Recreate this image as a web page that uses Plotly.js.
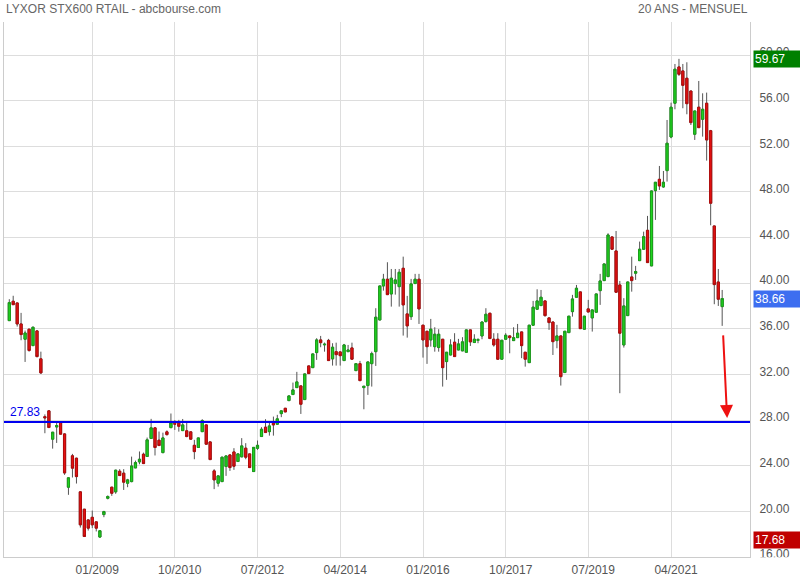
<!DOCTYPE html>
<html>
<head>
<meta charset="utf-8">
<script src="https://cdn.plot.ly/plotly-3.0.1.min.js"></script>
<style>html,body{margin:0;padding:0;background:#fff;}#chart{width:800px;height:580px;}</style>
</head>
<body>
<div id="chart"></div>
<script>
// Monthly candles, first month April 2007, last month May 2022
const startYear = 2007, startMonth = 4;
const openVals = [36.72,38.42,38.27,36.43,35.09,35.97,34.53,35.82,33.37,28.3,
28.81,26.33,27.4,27.82,26.79,22.12,24.87,24.66,21.71,20.19,
19.25,19.48,19.08,17.75,19.72,21.15,22.12,21.71,23.52,23.35,
22.47,22.61,23.81,24.34,25.01,24.81,26.39,27.32,26.24,25.15,
26.97,27.34,27.7,27.73,27.08,27.06,26.97,25.79,25.6,26.99,
27.58,26.09,23.55,22.47,22.61,23.93,24.95,25.21,24.37,24.78,
25.54,25.04,23.49,25.53,26.56,27.38,26.99,27.73,27.64,28.57,
29.04,29.71,30.24,30.85,31.0,29.8,32.75,32.6,33.92,35.03,
34.6,34.99,33.37,34.0,33.98,33.22,34.0,34.33,32.34,32.95,
30.85,31.03,32.95,34.0,36.78,39.76,40.35,39.06,39.97,39.7,
41.31,37.31,37.07,39.97,40.35,36.32,35.79,35.03,34.44,34.36,
35.09,33.13,33.71,34.83,34.15,34.07,33.95,35.91,34.8,35.0,
35.38,36.64,37.37,35.09,35.09,33.34,35.09,35.38,34.97,35.23,
35.73,33.95,33.04,36.32,37.72,38.04,38.45,36.96,36.6,34.97,
35.38,32.17,35.67,37.51,38.77,39.24,35.97,37.75,36.96,37.46,
39.35,40.23,40.58,44.06,42.83,39.85,34.59,37.16,40.55,40.88,
41.98,42.98,44.64,41.52,48.12,49.11,48.44,49.87,52.82,55.78,
58.96,58.61,57.97,56.85,53.06,55.43,54.37,55.78,53.37,45.02,
40.11,37.95];
const highVals = [38.6,38.9,38.3,37.4,35.85,36.0,36.2,35.9,34.0,28.5,
28.85,26.95,27.85,27.85,26.85,23.0,25.04,24.7,21.75,20.2,
19.3,20.07,19.1,18.35,20.05,21.4,22.15,23.65,23.7,23.7,
22.85,24.8,24.45,25.25,25.15,26.47,28.11,27.35,27.0,26.9,
27.1,28.58,28.0,28.02,28.1,27.78,27.0,26.27,26.45,28.08,
27.6,26.1,23.7,23.15,24.78,24.88,24.97,25.54,25.06,26.42,
25.98,25.06,25.63,26.21,27.38,28.08,27.87,28.31,28.46,28.83,
29.06,30.14,31.29,32.23,31.02,32.07,32.77,33.82,35.18,35.38,
34.8,35.12,34.74,34.79,34.0,34.68,34.59,34.79,32.97,33.19,
30.99,33.12,34.0,37.81,39.78,40.82,41.84,41.25,41.25,41.25,
42.33,38.89,40.38,40.82,40.82,36.34,35.81,36.87,36.14,35.97,
35.11,33.97,35.09,35.62,35.12,35.27,35.93,35.93,35.53,35.18,
36.62,37.81,37.39,35.62,35.62,35.02,35.62,35.4,36.14,36.43,
35.75,33.97,36.34,38.45,39.47,39.41,38.47,36.98,36.62,36.35,
35.4,35.81,37.13,38.98,39.85,39.26,37.13,38.54,37.68,39.08,
40.82,41.71,44.38,44.08,44.58,40.2,38.69,40.13,42.33,41.52,
43.65,44.52,45.9,48.11,48.87,50.28,49.84,54.31,55.83,59.22,
59.67,59.22,59.37,56.87,55.12,57.73,56.65,56.71,53.44,45.04,
41.25,39.41];
const lowVals = [36.7,38.1,36.2,35.0,33.1,34.0,34.5,33.5,32.05,26.85,
27.3,25.5,26.0,26.75,23.2,21.45,22.97,22.44,18.58,17.75,
18.32,18.53,18.24,17.68,19.49,21.05,21.36,21.54,23.1,21.88,
22.12,22.55,23.8,24.13,24.15,24.8,26.35,24.9,25.75,25.1,
26.65,27.3,27.14,26.99,27.05,26.5,26.3,24.57,25.58,26.95,
25.85,24.5,21.95,22.17,22.6,23.11,23.55,23.64,24.35,24.75,
24.57,23.82,23.47,25.39,26.54,26.89,26.64,26.64,27.62,28.26,
28.7,29.69,30.22,30.83,28.54,29.78,32.06,32.58,33.28,34.39,
34.0,33.2,32.78,32.78,32.78,33.2,33.98,33.32,32.32,31.44,
28.95,30.21,30.94,32.75,36.76,39.35,38.98,37.95,39.0,37.95,
35.41,35.23,36.78,39.95,36.43,33.48,32.93,34.44,34.0,34.0,
30.94,31.53,33.69,33.55,34.13,34.05,33.93,34.5,34.78,34.74,
35.09,36.55,35.13,34.44,33.32,33.32,35.07,33.86,34.95,35.21,
33.43,32.69,33.02,36.26,37.7,38.02,37.07,35.91,33.71,34.3,
31.03,32.15,35.65,37.07,38.75,36.0,35.95,37.46,35.76,37.44,
38.1,40.21,40.56,42.96,39.19,30.36,34.36,37.14,39.26,40.29,
41.96,42.92,41.79,41.5,45.55,48.18,48.38,48.91,52.71,55.25,
58.17,55.34,54.81,53.87,52.56,53.62,52.85,50.75,45.08,38.16,
38.01,36.26];
const closeVals = [38.3,38.12,36.43,35.5,35.64,34.1,36.14,33.57,32.14,28.2,
27.35,26.94,27.52,26.77,23.37,22.94,23.79,23.05,18.82,17.8,
18.53,18.82,18.53,18.3,19.98,21.3,21.59,23.61,23.14,22.56,
22.76,23.98,24.28,24.57,24.19,26.27,27.32,25.6,25.77,26.44,
26.73,27.78,27.65,27.46,27.58,26.56,26.33,25.24,26.44,27.96,
25.89,24.54,22.76,23.11,24.75,24.86,23.84,23.96,25.04,25.74,
24.75,23.84,25.61,25.79,27.2,26.91,27.49,27.58,28.11,28.81,
28.72,30.12,30.65,31.35,29.39,32.05,32.08,33.8,35.03,34.79,
34.65,33.22,34.39,33.74,33.65,34.59,34.15,33.34,32.95,31.46,
30.97,33.1,33.83,37.02,39.76,40.35,39.0,40.44,40.29,40.96,
38.1,36.26,39.94,40.35,37.75,35.03,34.44,35.97,35.53,35.53,
32.6,33.95,34.59,33.57,34.68,34.86,35.91,34.86,35.09,35.05,
36.6,37.28,35.15,34.59,33.34,35.0,35.44,35.23,35.23,35.62,
34.53,33.34,36.32,37.9,38.45,38.77,37.16,36.55,34.88,35.38,
31.81,35.79,37.11,38.62,39.56,36.02,37.11,37.48,37.66,39.06,
40.2,41.69,44.23,42.98,39.21,35.62,38.01,40.11,40.23,41.02,
42.98,44.08,41.81,48.09,48.85,48.53,48.85,52.27,55.43,58.76,
58.32,57.35,55.74,54.08,55.1,53.64,55.25,52.56,47.01,39.88,
38.6,38.66];

const tickDates = ['2009-01-01','2010-10-01','2012-07-01','2014-04-01','2016-01-01','2017-10-01','2019-07-01','2021-04-01'];
const tickLabels = ['01/2009','10/2010','07/2012','04/2014','01/2016','10/2017','07/2019','04/2021'];
const yTicks = [16,20,24,28,32,36,40,44,48,52,56,60];

const supportLevel = 27.83;
const maxLabel = 59.67, lastLabel = 38.66, minLabel = 17.68;
const arrowTail = {x:'2022-05-08', y:35.56};
const arrowHead = {x:'2022-06-08', y:28.19};

const dates = [];
for (let i = 0; i < openVals.length; i++) {
  const m = startMonth - 1 + i;
  const y = startYear + Math.floor(m / 12);
  const mm = (m % 12) + 1;
  dates.push(y + '-' + String(mm).padStart(2, '0') + '-01');
}
const bodyHigh = openVals.map((o, i) => Math.max(o, closeVals[i]));
const bodyLow = openVals.map((o, i) => Math.min(o, closeVals[i]));

const GREEN = '#1fd41f', GREEN_D = '#1a9e1a', RED = '#e41212', RED_D = '#b20c0c', WICK = '#555555';
const font = 'Liberation Sans, Arial, sans-serif';

const traces = [
  {
    type: 'candlestick', x: dates, open: openVals, high: highVals, low: lowVals, close: closeVals,
    increasing: {line: {color: WICK, width: 1}, fillcolor: GREEN},
    decreasing: {line: {color: WICK, width: 1}, fillcolor: RED},
    hoverinfo: 'skip', showlegend: false
  },
  {
    type: 'candlestick', x: dates, open: openVals, high: bodyHigh, low: bodyLow, close: closeVals,
    increasing: {line: {color: GREEN_D, width: 1}, fillcolor: GREEN},
    decreasing: {line: {color: RED_D, width: 1}, fillcolor: RED},
    hoverinfo: 'skip', showlegend: false
  }
];

const layout = {
  width: 800, height: 580,
  margin: {l: 4, r: 50, t: 22, b: 23, pad: 0},
  paper_bgcolor: '#ffffff', plot_bgcolor: '#ffffff',
  font: {family: font, size: 12, color: '#555555'},
  showlegend: false,
  boxgap: 0.15,
  xaxis: {
    type: 'date',
    range: ['2007-02-19', '2022-12-02'],
    rangeslider: {visible: false},
    tickmode: 'array', tickvals: tickDates, ticktext: tickLabels,
    ticks: '', showgrid: true, gridcolor: '#dddddd', gridwidth: 1,
    showline: true, linecolor: '#cccccc', linewidth: 1,
    tickfont: {family: font, size: 12, color: '#555555'},
    ticklabelshift: 5, ticklabelstandoff: 2,
    fixedrange: true
  },
  yaxis: {
    side: 'right',
    range: [16, 62.9],
    tickmode: 'array', tickvals: yTicks, tickformat: '.2f',
    ticks: '', showgrid: true, gridcolor: '#dddddd', gridwidth: 1,
    zeroline: false, showline: true, mirror: true, linecolor: '#cccccc', linewidth: 1,
    tickfont: {family: font, size: 12, color: '#555555'},
    ticklabelstandoff: 6, ticklabelshift: -3,
    fixedrange: true
  },
  shapes: [
    {type: 'line', xref: 'paper', x0: 0, x1: 1, yref: 'y', y0: supportLevel, y1: supportLevel,
     line: {color: '#0000ee', width: 2}, layer: 'above'},
    {type: 'rect', xref: 'paper', x0: 1.002, x1: 1.08, yref: 'paper', y0: -0.06, y1: -0.0005,
     line: {width: 0}, fillcolor: '#ffffff', layer: 'above'}
  ],
  annotations: [
    {xref: 'paper', yref: 'paper', x: 0, y: 1, xanchor: 'left', yanchor: 'middle', yshift: 13,
     text: 'LYXOR STX600 RTAIL - abcbourse.com', showarrow: false,
     font: {family: font, size: 12, color: '#666666'}},
    {xref: 'paper', yref: 'paper', x: 1, y: 1, xanchor: 'right', yanchor: 'middle', yshift: 13,
     text: '20 ANS - MENSUEL', showarrow: false,
     font: {family: font, size: 12, color: '#666666'}},
    {xref: 'paper', yref: 'y', x: 0, y: supportLevel, xanchor: 'left', yanchor: 'bottom', xshift: 4, yshift: 1,
     text: supportLevel.toFixed(2), showarrow: false,
     font: {family: font, size: 12, color: '#0000ee'}},
    {xref: 'paper', yref: 'y', x: 1, y: maxLabel, xanchor: 'left', yanchor: 'middle', xshift: 3,
     text: maxLabel.toFixed(2), showarrow: false, bgcolor: '#008000', width: 45, height: 14, align: 'left', borderpad: 1,
     font: {family: font, size: 12, color: '#ffffff'}},
    {xref: 'paper', yref: 'y', x: 1, y: lastLabel, xanchor: 'left', yanchor: 'middle', xshift: 3,
     text: lastLabel.toFixed(2), showarrow: false, bgcolor: '#3d6ef0', width: 45, height: 14, align: 'left', borderpad: 1,
     font: {family: font, size: 12, color: '#ffffff'}},
    {xref: 'paper', yref: 'y', x: 1, y: minLabel, xanchor: 'left', yanchor: 'middle', xshift: 3, yshift: -2,
     text: minLabel.toFixed(2), showarrow: false, bgcolor: '#c00000', width: 45, height: 14, align: 'left', borderpad: 1,
     font: {family: font, size: 12, color: '#ffffff'}},
    {xref: 'x', yref: 'y', x: arrowHead.x, y: arrowHead.y, axref: 'x', ayref: 'y', ax: arrowTail.x, ay: arrowTail.y,
     text: '', showarrow: true, arrowhead: 2, arrowsize: 1.3, arrowwidth: 2, arrowcolor: '#ee1111', standoff: 0}
  ]
};

Plotly.newPlot('chart', traces, layout, {displayModeBar: false, staticPlot: true});
</script>
</body>
</html>
